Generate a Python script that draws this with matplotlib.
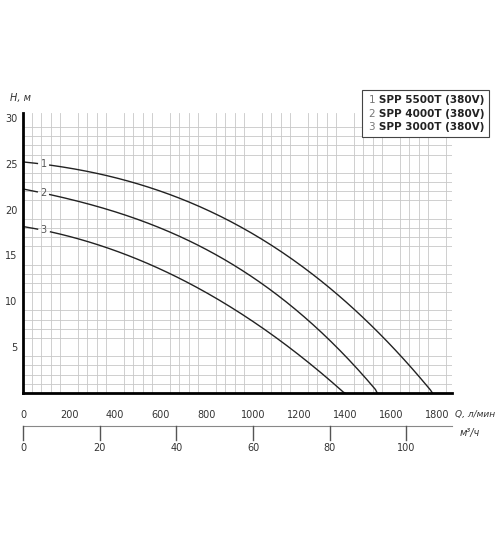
import numpy as np
import matplotlib.pyplot as plt

q1 = [0, 200, 400, 600, 800, 1000, 1200, 1400, 1600, 1780]
h1 = [25.2, 24.5, 23.5, 22.0, 20.0, 17.3, 14.0, 10.0, 5.3, 0]
q2 = [0, 200, 400, 600, 800, 1000, 1200, 1400, 1540]
h2 = [22.2, 21.2, 19.8, 18.0, 15.5, 12.5, 8.8, 4.3, 0]
q3 = [0, 200, 400, 600, 800, 1000, 1200, 1400]
h3 = [18.2, 17.0, 15.5, 13.5, 11.0, 7.8, 4.0, 0]
names = ['SPP 5500T (380V)', 'SPP 4000T (380V)', 'SPP 3000T (380V)']

fig = plt.figure(figsize=(5, 5.38), dpi=100)
ax = fig.add_axes([0.046, 0.2695, 0.858, 0.52])
xmax = 1865
ax.set_xlim(0, xmax)
ax.set_ylim(0, 30.5)
ax.set_xticks(np.arange(0, xmax, 40), minor=True)
ax.set_yticks(np.arange(0, 31, 1), minor=True)
ax.grid(which='minor', color='#c8c8c8', lw=0.6)
ax.set_xticks(range(0, 1801, 200))
ax.set_yticks([5, 10, 15, 20, 25, 30])
ax.tick_params(which='both', length=0, labelsize=7, colors='#333333', pad=12)
ax.tick_params(axis='y', pad=4)
for s in ['top', 'right']:
    ax.spines[s].set_visible(False)
for s in ['left', 'bottom']:
    ax.spines[s].set_linewidth(2)

for k, (q, h) in enumerate([(q1, h1), (q2, h2), (q3, h3)]):
    p = np.polyfit(q, h, 3)
    xs = np.linspace(0, q[-1], 200)
    ys = np.polyval(p, xs)
    ys[-1] = 0
    lx = 90
    m = (xs > lx - 25) & (xs < lx + 25)
    ax.plot(np.where(m, np.nan, xs), ys, color='#222222', lw=1)
    ax.text(lx, np.polyval(p, lx), str(k + 1), fontsize=7, color='#555555',
            ha='center', va='center')

ax.text(1880, -2.6, 'Q, л/мин', fontsize=6.5, style='italic', color='#333333')
ax.text(-55, 31.8, 'H, м', fontsize=7, style='italic', color='#333333')

fig.text(0.735, 0.755, '\n'.join('   ' + n for n in names), fontsize=7.5, weight='bold',
         color='#222222', va='bottom', ha='left', linespacing=1.4,
         bbox=dict(boxstyle='square,pad=0.5', fc='white', ec='#444444', lw=0.8))
fig.text(0.737, 0.755, '\n'.join(str(i + 1) for i in range(3)), fontsize=7.5,
         color='#777777', va='bottom', ha='left', linespacing=1.4)

ax2 = fig.add_axes([0.046, 0.208, 0.858, 0.001])
ax2.set_xlim(0, xmax / 16.667)
ax2.set_ylim(0, 1)
ax2.set_yticks([])
ax2.set_xticks(range(0, 101, 20))
for s in ['right', 'left', 'bottom']:
    ax2.spines[s].set_visible(False)
ax2.spines['top'].set_color('#888888')
ax2.tick_params(axis='x', length=0, labelsize=7, colors='#333333', pad=12)
for t in range(0, 101, 20):
    fig.lines.append(plt.Line2D([0.046 + 0.858 * t / (xmax / 16.667)] * 2,
                                [0.209, 0.182], color='#555555', lw=1,
                                transform=fig.transFigure))
fig.text(0.92, 0.19, 'м³/ч', fontsize=7, style='italic', color='#333333')

fig.savefig('out.png', dpi=100)
